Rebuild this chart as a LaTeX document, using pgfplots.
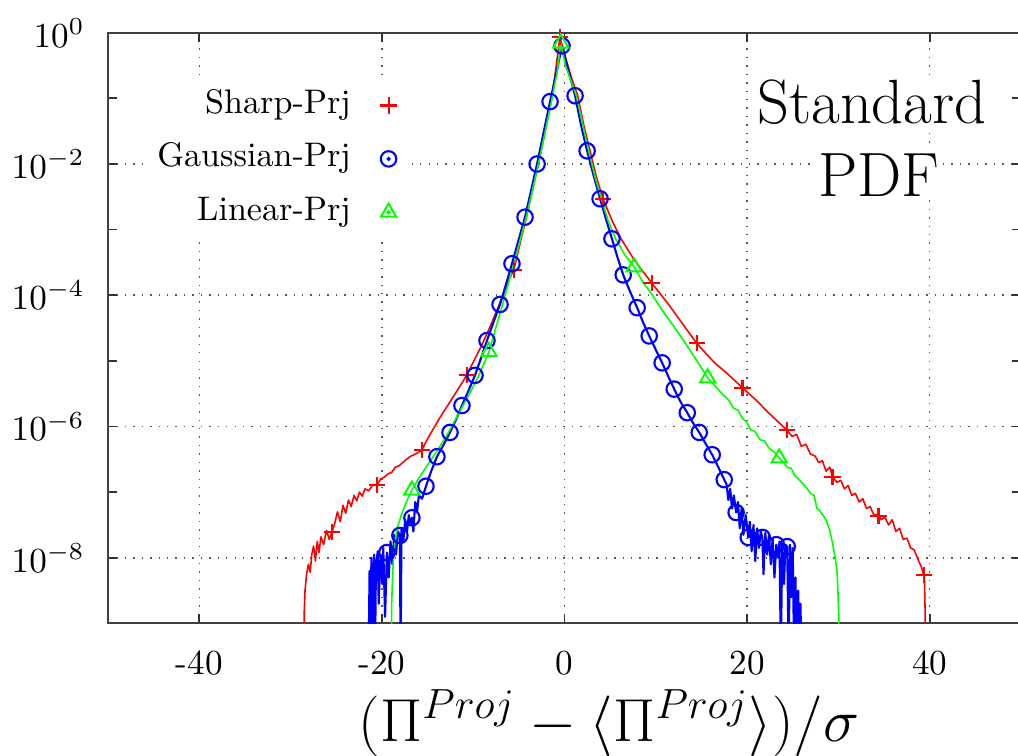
\documentclass[border=0pt]{standalone}
\usepackage{pgfplots}
\pgfplotsset{compat=1.18}
\pgfplotsset{
  legdot/.style={legend image code/.code={\path (0cm,0cm) (0.3cm,0cm); \draw[##1] plot coordinates {(0.15cm,0cm)}; \fill[#1] (0.15cm,0cm) circle (0.4pt);}},
  legplain/.style={legend image code/.code={\path (0cm,0cm) (0.3cm,0cm); \draw[##1] plot coordinates {(0.15cm,0cm)};}},
}
\begin{document}
\begin{tikzpicture}
\useasboundingbox (-10.8mm,-13.16mm) rectangle (91.0mm,62.34mm);
\clip (-10.8mm,-13.16mm) rectangle (91.0mm,62.34mm);
\begin{axis}[
  at={(0,0)}, anchor=south west,
  scale only axis, width=91.3mm, height=59.07mm,
  xmin=-50, xmax=50, ymode=log, ymin=1e-9, ymax=1,
  xtick={-40,-20,0,20,40}, xticklabels={-40,-20,0,20,40},
  ytick={1,1e-2,1e-4,1e-6,1e-8}, minor ytick={1e-1,1e-3,1e-5,1e-7},
  xmajorgrids, ymajorgrids,
  grid style={dotted, black!65, line width=0.45pt},
  axis line style={black!75, line width=0.6pt},
  tick style={black!80, line width=0.5pt},
  major tick length=0.9mm, minor tick length=0.9mm,
  tick align=inside,
  ticklabel style={font=\fontsize{10}{12}\selectfont},
  xticklabel style={yshift=-4.3pt},
  yticklabel style={xshift=-1.1mm},
  xlabel={$(\Pi^{Proj} - \langle\Pi^{Proj}\rangle)/\sigma$},
  xlabel style={at={(axis description cs:0.549,0)}, anchor=base, yshift=-11.76mm, font=\fontsize{18}{21}\selectfont},
  legend cell align=right, legend plot pos=right,
  legend style={draw=none, fill=white, at={(axis description cs:0.333,0.9182)}, anchor=north east,
    font=\fontsize{9.7}{11}\selectfont, inner sep=2pt, column sep=2.2mm, row sep=5.7pt,
    nodes={inner sep=0pt, text height=7pt, text depth=2.5pt}},
]
% ---------------- Sharp-Prj (red) ----------------
\addplot[red, line width=0.45pt, line join=round, forget plot] coordinates {
(-28.5,3.162e-10) (-28.5,1.585e-9) (-28.42,3.162e-9) (-28.25,5.623e-9) (-28.05,7.943e-9)
(-27.85,6.026e-9) (-27.68,1.122e-8) (-27.48,1.514e-8) (-27.28,8.913e-9) (-27.08,1.778e-8)
(-26.88,1.202e-8) (-26.68,2.089e-8) (-26.38,1.585e-8) (-26.07,2.630e-8) (-25.77,1.905e-8)
(-25.47,2.455e-8) (-25.17,3.311e-8) (-24.87,5.012e-8) (-24.56,3.548e-8) (-24.26,6.310e-8)
(-23.96,4.786e-8) (-23.66,7.586e-8) (-23.36,6.026e-8) (-23.05,8.913e-8) (-22.75,7.413e-8)
(-22.45,1.0e-7) (-22.15,8.710e-8) (-21.85,1.122e-7) (-21.45,1.047e-7) (-21.04,1.259e-7)
(-20.54,1.288e-7) (-20.14,1.585e-7) (-19.73,1.698e-7) (-19.33,1.905e-7) (-18.93,1.995e-7)
(-18.53,2.399e-7) (-18.13,2.512e-7) (-17.72,2.818e-7) (-17.32,3.162e-7) (-16.82,3.548e-7)
(-16.31,3.802e-7) (-15.61,4.365e-7) (-15.31,5.370e-7) (-14.80,7.244e-7) (-14.30,9.550e-7)
(-13.80,1.259e-6) (-13.30,1.622e-6) (-12.79,2.089e-6) (-12.29,2.692e-6) (-11.79,3.467e-6)
(-11.28,4.467e-6) (-10.68,6.166e-6) (-10.28,7.943e-6) (-9.78,1.096e-5) (-9.27,1.514e-5)
(-8.77,2.138e-5) (-8.27,3.020e-5) (-7.76,4.467e-5) (-7.26,6.607e-5) (-6.76,1.0e-4)
(-6.25,1.514e-4) (-5.55,2.455e-4) (-4.85,6.310e-4) (-4.15,1.585e-3) (-3.5,3.981e-3)
(-2.85,1.0e-2) (-2.15,2.951e-2) (-1.43,9.550e-2) (-0.95,0.2818) (-0.5,0.861)
(0.2,0.3802) (0.8,0.1995) (1.45,0.1096) (2.1,3.981e-2) (2.8,1.585e-2) (3.5,6.310e-3)
(4.21,2.951e-3) (5.2,1.380e-3) (6.2,7.244e-4) (7.63,3.467e-4) (9.54,1.549e-4)
(11.35,7.413e-5) (12.86,3.802e-5) (14.47,1.862e-5) (16.38,9.550e-6) (17.88,6.310e-6)
(19.5,3.890e-6) (21.0,2.512e-6) (22.42,1.585e-6) (24.33,8.913e-7) (24.93,7.079e-7)
(25.43,7.586e-7) (25.94,5.012e-7) (26.44,5.370e-7) (26.94,3.802e-7) (27.45,3.548e-7)
(27.85,2.818e-7) (28.25,3.020e-7) (28.65,2.089e-7) (29.06,2.399e-7) (29.36,1.698e-7)
(29.86,1.413e-7) (30.26,1.514e-7) (30.67,1.122e-7) (31.07,1.259e-7) (31.47,8.913e-8)
(31.87,9.550e-8) (32.28,7.079e-8) (32.68,7.943e-8) (33.08,5.623e-8) (33.48,6.026e-8)
(33.89,4.467e-8) (34.39,4.677e-8) (34.69,3.802e-8) (35.09,4.169e-8) (35.5,3.162e-8)
(35.9,3.802e-8) (36.3,2.512e-8) (36.7,2.818e-8) (37.1,1.905e-8) (37.51,1.995e-8)
(37.91,1.413e-8) (38.31,1.318e-8) (38.71,9.550e-9) (39.12,7.079e-9) (39.42,5.012e-9)
(39.5,1.585e-9) (39.5,3.162e-10)
};
\addplot[red, only marks, mark=+, mark size=2.3pt, mark options={line width=0.6pt}, legplain]
coordinates {
(-25.47,2.455e-8) (-20.54,1.288e-7) (-15.61,4.365e-7) (-10.68,6.166e-6) (-5.55,2.455e-4)
(-0.5,0.861) (4.21,2.951e-3) (9.54,1.549e-4) (14.47,1.862e-5) (19.5,3.890e-6)
(24.33,8.913e-7) (29.36,1.698e-7) (34.39,4.365e-8) (39.42,5.495e-9)
};
\addlegendentry{Sharp-Prj}
% ---------------- Gaussian-Prj (blue) ----------------
\addplot[blue, line width=0.6pt, line join=round, forget plot] coordinates {
(-21.45,3.162e-10) (-21.35,6.310e-9) (-21.25,3.162e-10) (-21.15,1.0e-8) (-21.05,3.162e-10)
(-20.95,5.012e-9) (-20.85,1.122e-8) (-20.75,3.162e-10) (-20.65,7.943e-9) (-20.45,1.259e-8)
(-20.35,1.995e-9) (-20.15,1.122e-8) (-19.95,3.981e-9) (-19.85,1.413e-8) (-19.65,1.259e-9)
(-19.45,1.202e-8) (-19.25,5.012e-9) (-19.05,1.778e-8) (-18.85,7.943e-9) (-18.65,2.239e-8)
(-18.45,1.122e-8) (-18.25,2.512e-8) (-18.03,2.188e-8) (-17.95,3.162e-10) (-17.85,2.818e-8)
(-17.65,1.778e-8) (-17.45,3.802e-8) (-17.25,2.512e-8) (-17.05,4.467e-8) (-16.85,3.162e-8)
(-16.71,4.074e-8) (-16.55,2.512e-8) (-16.35,7.079e-8) (-16.15,5.012e-8) (-15.95,8.913e-8)
(-15.6,7.943e-8) (-15.17,1.230e-7) (-14.6,2.089e-7) (-13.97,3.467e-7) (-13.25,5.248e-7)
(-12.54,8.128e-7) (-11.9,1.259e-6) (-11.23,2.089e-6) (-10.5,3.548e-6) (-9.8,6.026e-6)
(-9.15,1.096e-5) (-8.49,2.042e-5) (-7.8,3.802e-5) (-7.06,7.244e-5) (-6.4,1.479e-4)
(-5.75,3.020e-4) (-5.05,6.761e-4) (-4.32,1.549e-3) (-3.65,3.981e-3) (-3.0,1.0e-2)
(-2.3,2.951e-2) (-1.58,8.913e-2) (-0.9,0.2399) (-0.27,0.6310) (0.45,0.2630)
(1.16,0.1096) (1.8,3.981e-2) (2.48,1.585e-2) (3.2,6.607e-3) (3.9,2.951e-3)
(4.55,1.445e-3) (5.2,7.244e-4) (5.8,3.802e-4) (6.43,2.042e-4) (7.2,1.122e-4)
(7.96,6.457e-5) (8.6,3.890e-5) (9.28,2.399e-5) (10.0,1.479e-5) (10.7,9.333e-6)
(11.35,5.888e-6) (12.02,3.715e-6) (12.7,2.399e-6) (13.45,1.622e-6) (14.1,1.122e-6)
(14.76,8.128e-7) (15.45,5.495e-7) (16.18,3.715e-7) (16.85,2.399e-7) (17.5,1.549e-7)
(17.75,1.318e-7) (17.95,7.586e-8) (18.15,1.122e-7) (18.35,5.623e-8) (18.55,8.913e-8)
(18.8,4.898e-8) (19.0,7.079e-8) (19.2,2.818e-8) (19.4,5.623e-8) (19.6,2.239e-8)
(19.85,4.467e-8) (20.13,2.042e-8) (20.3,3.548e-8) (20.5,1.259e-8) (20.7,3.162e-8)
(20.9,8.913e-9) (21.1,2.818e-8) (21.3,1.413e-8) (21.5,2.512e-8) (21.67,2.042e-8)
(21.8,5.623e-9) (22.0,2.399e-8) (22.2,1.122e-8) (22.4,2.239e-8) (22.6,7.943e-9)
(22.8,1.995e-8) (23.0,5.012e-9) (23.2,1.585e-8) (23.4,1.0e-8) (23.55,1.778e-8)
(23.7,3.162e-10) (23.85,1.660e-8) (24.05,3.981e-9) (24.2,1.585e-8) (24.4,1.479e-8)
(24.55,3.162e-10) (24.7,1.585e-8) (24.85,2.512e-9) (25.0,1.413e-8) (25.15,3.162e-10)
(25.3,5.012e-9) (25.45,3.162e-10) (25.6,3.162e-9) (25.75,3.162e-10) (25.85,1.995e-9)
(25.95,3.162e-10)
};
\addplot[blue, only marks, mark=o, mark size=2.2pt, mark options={line width=0.6pt}, legdot=blue]
coordinates {
(-19.45,1.202e-8) (-18.03,2.188e-8) (-16.71,4.074e-8) (-15.17,1.230e-7) (-13.97,3.467e-7)
(-12.54,8.128e-7) (-11.23,2.089e-6) (-9.8,6.026e-6) (-8.49,2.042e-5) (-7.06,7.244e-5)
(-5.75,3.020e-4) (-4.32,1.549e-3) (-3.0,1.0e-2) (-1.58,8.913e-2) (-0.27,0.6310)
(1.16,0.1096) (2.48,1.585e-2) (3.9,2.951e-3) (5.2,7.244e-4) (6.43,2.042e-4)
(7.96,6.457e-5) (9.28,2.399e-5) (10.7,9.333e-6) (12.02,3.715e-6) (13.45,1.622e-6)
(14.76,8.128e-7) (16.18,3.715e-7) (17.5,1.549e-7) (18.8,4.898e-8) (20.13,2.042e-8)
(21.67,2.042e-8) (23.2,1.585e-8) (24.4,1.479e-8)
};
\addlegendentry{Gaussian-Prj}
% ---------------- Linear-Prj (green) ----------------
\addplot[green, line width=0.45pt, line join=round, forget plot] coordinates {
(-18.93,3.162e-10) (-18.93,1.995e-9) (-18.83,5.012e-9) (-18.73,1.0e-8) (-18.53,1.905e-8)
(-18.22,3.162e-8) (-17.82,4.677e-8) (-17.32,7.079e-8) (-16.72,1.072e-7) (-16.01,1.585e-7)
(-15.21,2.344e-7) (-14.10,3.981e-7) (-12.99,6.918e-7) (-12.09,1.175e-6) (-11.18,1.995e-6)
(-10.28,3.388e-6) (-9.37,6.026e-6) (-8.27,1.380e-5) (-6.86,6.607e-5) (-5.5,3.162e-4)
(-4.17,1.585e-3) (-2.85,1.0e-2) (-1.43,8.913e-2) (-0.8,0.2512) (-0.4,0.6918)
(0.1,0.3162) (1.3,0.1096) (2.0,3.981e-2) (2.65,1.585e-2) (3.35,6.310e-3)
(4.05,2.951e-3) (4.8,1.349e-3) (5.6,7.244e-4) (6.6,4.169e-4) (7.63,2.692e-4)
(8.6,1.585e-4) (9.64,1.0e-4) (10.7,5.888e-5) (11.85,3.548e-5) (12.85,2.239e-5)
(13.8,1.413e-5) (14.8,8.710e-6) (15.68,5.495e-6) (16.6,3.981e-6) (17.4,3.020e-6)
(18.0,2.512e-6) (18.5,1.905e-6) (19.0,1.778e-6) (19.5,1.318e-6) (19.9,1.202e-6)
(20.4,8.913e-7) (20.9,8.318e-7) (21.4,6.310e-7) (21.9,6.026e-7) (22.4,4.677e-7)
(22.9,4.169e-7) (23.52,3.311e-7) (24.0,2.818e-7) (24.4,2.399e-7) (24.85,2.291e-7)
(25.25,1.778e-7) (25.75,1.514e-7) (26.15,1.318e-7) (26.55,1.148e-7) (26.95,9.550e-8)
(27.35,8.913e-8) (27.65,5.623e-8) (27.95,5.248e-8) (28.35,4.365e-8) (28.65,3.802e-8)
(29.05,2.630e-8) (29.35,1.698e-8) (29.65,1.0e-8) (29.85,6.310e-9) (29.95,3.162e-9)
(30.05,1.259e-9) (30.05,3.162e-10)
};
\addplot[green, only marks, mark=triangle, mark size=2.5pt, mark options={line width=0.55pt}, legdot=green]
coordinates {
(-16.72,1.072e-7) (-8.27,1.380e-5) (-0.4,0.6918) (7.63,2.692e-4) (15.68,5.495e-6) (23.52,3.311e-7)
};
\addlegendentry{Linear-Prj}
\node[fill=white, inner sep=1pt, anchor=base, font=\fontsize{17.8}{21}\selectfont] at (axis description cs:0.8368,0.8466) {Standard};
\node[fill=white, inner sep=1pt, anchor=base, font=\fontsize{17.8}{21}\selectfont] at (axis description cs:0.8445,0.7224) {PDF};
\end{axis}
\end{tikzpicture}
\end{document}
